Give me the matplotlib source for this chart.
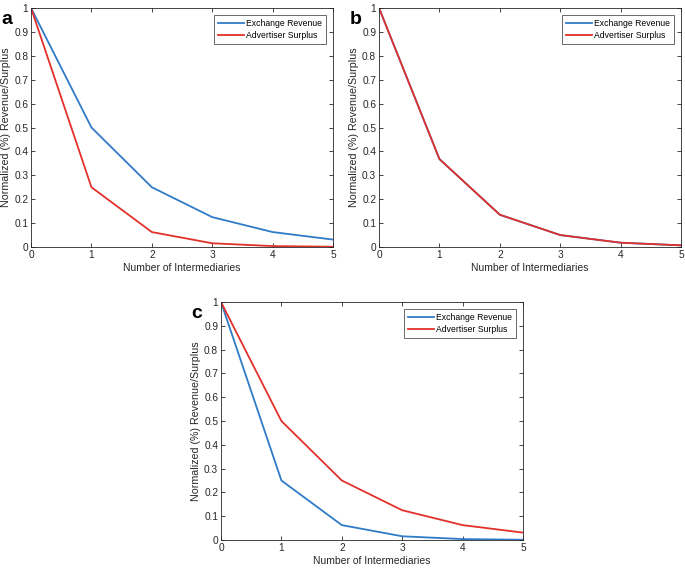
import matplotlib
matplotlib.use("Agg")
import matplotlib.pyplot as plt

# number of intermediaries
n = [0, 1, 2, 3, 4, 5]

# panel a
rev_a = [1.0, 0.5, 0.25, 0.125, 0.0625, 0.031]
sur_a = [1.0, 0.25, 0.0625, 0.0156, 0.0039, 0.001]
# panel b (both curves coincide)
rev_b = [1.0, 0.368, 0.135, 0.050, 0.018, 0.007]
sur_b = [1.0, 0.368, 0.135, 0.050, 0.018, 0.007]
# panel c
rev_c = [1.0, 0.25, 0.0625, 0.0156, 0.0039, 0.001]
sur_c = [1.0, 0.5, 0.25, 0.125, 0.0625, 0.031]

yticks = [0, 0.1, 0.2, 0.3, 0.4, 0.5, 0.6, 0.7, 0.8, 0.9, 1]
ytick_labels = ["0", "0.1", "0.2", "0.3", "0.4", "0.5", "0.6", "0.7", "0.8", "0.9", "1"]

blue = "#2F7BC8"
red = "#E2302A"

plt.rcParams["font.family"] = ["Liberation Sans", "DejaVu Sans"]

fig = plt.figure(figsize=(6.85, 5.71), dpi=100)

boxes = {
    "a": [0.0453, 0.5674, 0.441, 0.4186],
    "b": [0.5533, 0.5674, 0.441, 0.4186],
    "c": [0.3226, 0.0543, 0.441, 0.4168],
}
data = {"a": (rev_a, sur_a), "b": (rev_b, sur_b), "c": (rev_c, sur_c)}

for key, box in boxes.items():
    ax = fig.add_axes(box)
    rev, sur = data[key]
    ax.plot(n, rev, color=blue, lw=1.3, label="Exchange Revenue")
    ax.plot(n, sur, color=red, lw=1.3, label="Advertiser Surplus")
    ax.set_xlim(0, 5)
    ax.set_ylim(0, 1)
    ax.set_xticks(n)
    ax.set_yticks(yticks)
    ax.set_yticklabels(ytick_labels)
    ax.tick_params(direction="in", top=True, right=True, labelsize=7.3,
                   length=3, width=0.6, colors="#262626", pad=2)
    for s in ax.spines.values():
        s.set_linewidth(0.6)
        s.set_color("#262626")
    ax.set_xlabel("Number of Intermediaries", fontsize=7.5, labelpad=2, color="#262626")
    ax.set_ylabel("Normalized (%) Revenue/Surplus", fontsize=7.7, labelpad=2, color="#262626")
    leg = ax.legend(loc="upper right", fontsize=6.2, frameon=True, fancybox=False,
                    handlelength=3.0, borderaxespad=0.8, labelspacing=0.35,
                    handletextpad=0.3, borderpad=0.45)
    leg.get_frame().set_edgecolor("#262626")
    leg.get_frame().set_linewidth(0.6)
    x0 = box[0] - 0.043
    ytop = box[1] + box[3] - 0.005
    fig.text(x0, ytop, key, fontsize=14, fontweight="bold", va="top", ha="left")

fig.savefig("out.png", dpi=100)
